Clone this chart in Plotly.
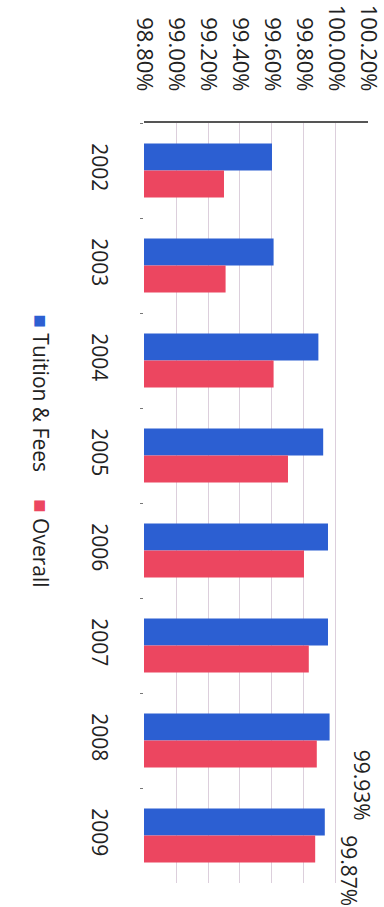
import plotly.graph_objects as go

# Collection rates by year (percent)
years = ["2002", "2003", "2004", "2005", "2006", "2007", "2008", "2009"]
tuition_fees = [99.60, 99.61, 99.89, 99.92, 99.95, 99.95, 99.96, 99.93]
overall = [99.30, 99.31, 99.61, 99.70, 99.80, 99.83, 99.88, 99.87]
value_ticks = [98.80, 99.00, 99.20, 99.40, 99.60, 99.80, 100.00, 100.20]

BLUE = "#2c5fd2"
RED = "#ec4660"
FONT = "Open Sans"

fig = go.Figure()
fig.add_trace(go.Bar(y=years, x=tuition_fees, orientation="h", name="Tuition & Fees",
                     marker=dict(color=BLUE, line=dict(width=0))))
fig.add_trace(go.Bar(y=years, x=overall, orientation="h", name="Overall",
                     marker=dict(color=RED, line=dict(width=0))))

# Value labels for the last year, set vertically like the rest of the text
last = len(years) - 1
fig.add_annotation(x=tuition_fees[last], y=last, text=f"{tuition_fees[last]:.2f}%",
                   textangle=90, showarrow=False, xshift=38, yshift=50,
                   font=dict(family=FONT, size=21, color="#222"))
fig.add_annotation(x=overall[last], y=last, text=f"{overall[last]:.2f}%",
                   textangle=90, showarrow=False, xshift=34, yshift=-35,
                   font=dict(family=FONT, size=21, color="#222"))

# Legend drawn as rotated text
fig.add_annotation(xref="paper", yref="paper", x=-0.47, y=0.568, xshift=-14,
                   text=(f"<span style='color:{BLUE};font-size:22px'>■</span> Tuition & Fees"
                         f"     <span style='color:{RED};font-size:22px'>■</span> Overall"),
                   textangle=90, showarrow=False,
                   font=dict(family=FONT, size=21, color="#222"))

fig.update_layout(
    width=384, height=907,
    margin=dict(l=144, r=16, t=123, b=24, autoexpand=False),
    paper_bgcolor="white", plot_bgcolor="white",
    barmode="group", bargap=0.43, bargroupgap=0,
    showlegend=False,
    font=dict(family=FONT, color="#222"),
    xaxis=dict(side="top", range=[98.8, 100.2001], tickvals=value_ticks,
               ticktext=[f"{v:.2f}%" for v in value_ticks], tickangle=90,
               tickfont=dict(size=22), ticklabelstandoff=22,
               ticklabeloverflow="allow", automargin=False,
               showgrid=True, gridcolor="#dccfdc", gridwidth=1,
               showline=True, linecolor="#555", linewidth=1.5,
               zeroline=False, ticks=""),
    yaxis=dict(type="category", range=[len(years) - 0.5, -0.5], tickangle=90,
               tickfont=dict(size=21), ticklabelstandoff=30, automargin=False,
               tickson="boundaries", ticks="outside",
               ticklen=3, tickcolor="#777", showline=False, showgrid=False,
               zeroline=False),
)

fig.write_html("out.html")
